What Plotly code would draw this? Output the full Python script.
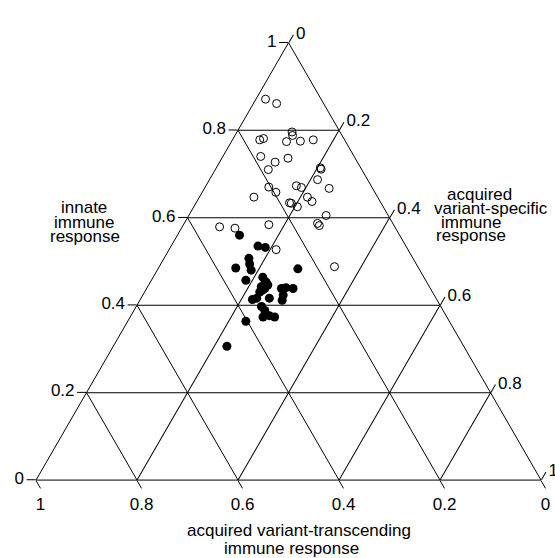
import plotly.graph_objects as go

# open circles: innate (a), variant-transcending (b), variant-specific (c)
open_innate = [0.871, 0.861, 0.796, 0.788, 0.778, 0.781, 0.774, 0.775, 0.778, 0.740,
               0.727, 0.736, 0.710, 0.714, 0.711, 0.687, 0.670, 0.658, 0.673, 0.669,
               0.667, 0.647, 0.647, 0.637, 0.634, 0.633, 0.625, 0.605, 0.587, 0.582,
               0.579, 0.576, 0.584, 0.527, 0.488]
open_transcending = [0.110, 0.093, 0.095, 0.098, 0.168, 0.159, 0.117, 0.089, 0.062, 0.185,
                     0.163, 0.133, 0.185, 0.080, 0.080, 0.099, 0.204, 0.196, 0.148, 0.140,
                     0.086, 0.245, 0.139, 0.135, 0.181, 0.178, 0.170, 0.123, 0.149, 0.148,
                     0.347, 0.318, 0.247, 0.261, 0.165]
open_specific = [0.019, 0.046, 0.109, 0.114, 0.054, 0.060, 0.109, 0.136, 0.160, 0.075,
                 0.110, 0.131, 0.105, 0.206, 0.209, 0.214, 0.126, 0.146, 0.179, 0.191,
                 0.247, 0.108, 0.214, 0.228, 0.185, 0.189, 0.205, 0.272, 0.264, 0.270,
                 0.074, 0.106, 0.169, 0.212, 0.347]

# filled circles
fill_innate = [0.560, 0.535, 0.532, 0.507, 0.494, 0.485, 0.480, 0.483, 0.457, 0.464,
               0.453, 0.442, 0.438, 0.446, 0.430, 0.438, 0.440, 0.438, 0.423, 0.413,
               0.416, 0.411, 0.397, 0.388, 0.373, 0.376, 0.373, 0.363, 0.306, 0.450,
               0.434, 0.416]
fill_transcending = [0.317, 0.293, 0.280, 0.325, 0.330, 0.362, 0.334, 0.240, 0.356, 0.319,
                     0.318, 0.333, 0.328, 0.318, 0.342, 0.295, 0.285, 0.272, 0.299, 0.365,
                     0.355, 0.307, 0.355, 0.353, 0.364, 0.350, 0.341, 0.403, 0.469, 0.322,
                     0.335, 0.330]
fill_specific = [0.123, 0.172, 0.188, 0.168, 0.176, 0.153, 0.186, 0.277, 0.187, 0.217,
                 0.229, 0.225, 0.234, 0.236, 0.228, 0.267, 0.275, 0.290, 0.278, 0.222,
                 0.229, 0.282, 0.248, 0.259, 0.263, 0.274, 0.286, 0.234, 0.225, 0.228,
                 0.231, 0.254]

tick_vals = [0, 0.2, 0.4, 0.6, 0.8, 1]
tick_text = ["0", "0.2", "0.4", "0.6", "0.8", "1"]

# axis titles, one entry per text line
innate_title = ["innate", "immune", "response"]
specific_title = ["acquired", "variant-specific", "immune", "response"]
transcending_title = ["acquired variant-transcending", "immune response"]

FONT = "Liberation Sans, Arial, sans-serif"
TXT = dict(family=FONT, size=17, color="black")

fig = go.Figure()
fig.add_trace(go.Scatterternary(
    a=open_innate, b=open_transcending, c=open_specific, mode="markers",
    marker=dict(symbol="circle-open", size=8, color="black", line=dict(width=1)),
    showlegend=False, hoverinfo="skip"))
fig.add_trace(go.Scatterternary(
    a=fill_innate, b=fill_transcending, c=fill_specific, mode="markers",
    marker=dict(symbol="circle", size=9, color="black"),
    showlegend=False, hoverinfo="skip"))

axis_common = dict(
    tickmode="array", tickvals=tick_vals, ticktext=tick_text,
    ticks="outside", ticklen=9, tickcolor="black", tickwidth=1,
    showgrid=True, gridcolor="black", gridwidth=1,
    showline=True, linecolor="black", linewidth=1,
    tickfont=dict(family=FONT, size=17, color="black"),
    title=dict(text=""), min=0,
)

annotations = []
for txt, xc, yc in zip(innate_title, [84, 84, 85], [207.5, 222.0, 236.5]):
    annotations.append(dict(text=txt, x=xc / 555, y=1 - yc / 558))
for txt, xc, yc in zip(specific_title, [479, 491, 471, 471], [194.5, 208.5, 222.0, 235.5]):
    annotations.append(dict(text=txt, x=xc / 555, y=1 - yc / 558))
for txt, xc, yc in zip(transcending_title, [299, 291], [530.0, 548.5]):
    annotations.append(dict(text=txt, x=xc / 555, y=1 - yc / 558))
for an in annotations:
    an.update(xref="paper", yref="paper", showarrow=False, font=TXT,
              xanchor="center", yanchor="middle")

fig.update_layout(
    width=555, height=558,
    margin=dict(l=0, r=0, t=0, b=0),
    paper_bgcolor="white",
    font=dict(family=FONT, color="black"),
    ternary=dict(
        sum=1,
        bgcolor="white",
        domain=dict(x=[0.0649, 0.9748], y=[0.135, 0.928]),
        aaxis=axis_common,
        baxis=axis_common,
        caxis=axis_common,
    ),
    annotations=annotations,
)

fig.write_html("out.html")
